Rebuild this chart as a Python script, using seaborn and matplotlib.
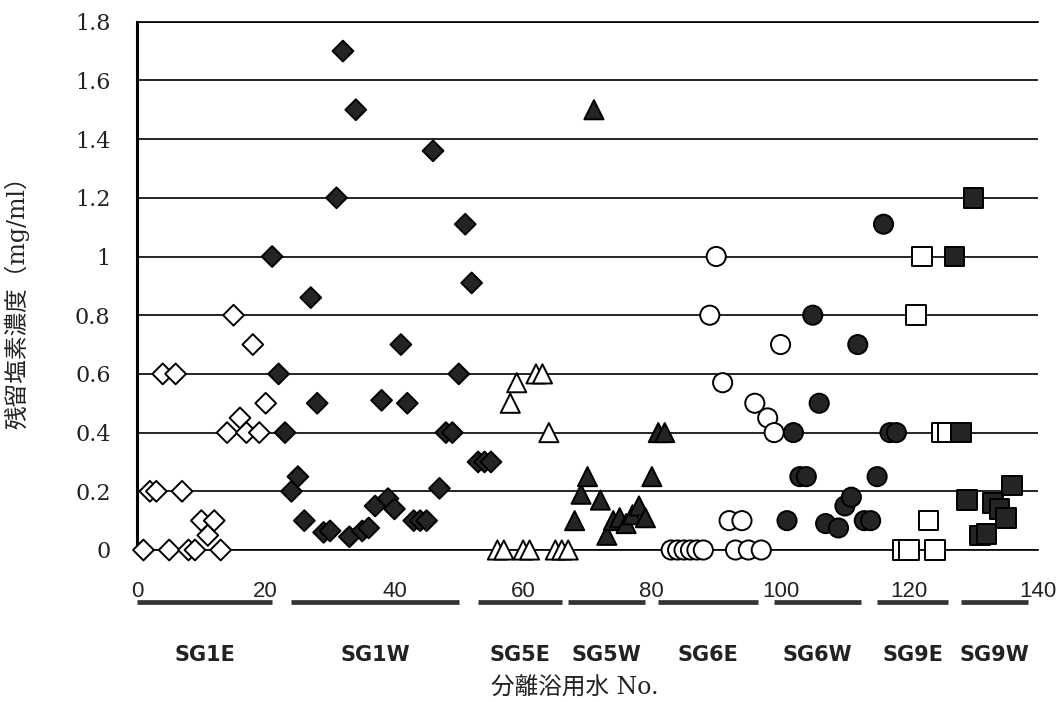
import matplotlib
matplotlib.use("Agg")
import matplotlib.pyplot as plt
import seaborn as sns
import pandas as pd
from matplotlib.transforms import blended_transform_factory

# ---------------- data ----------------
groups = ["SG1E", "SG1W", "SG5E", "SG5W", "SG6E", "SG6W", "SG9E", "SG9W"]

sg1e_x = [1, 2, 3, 4, 5, 6, 7, 8, 9, 10, 11, 12, 13, 14, 15, 16, 17, 18, 19, 20]
sg1e_y = [0, 0.2, 0.2, 0.6, 0, 0.6, 0.2, 0, 0, 0.1, 0.05, 0.1, 0, 0.4, 0.8, 0.45, 0.4, 0.7, 0.4, 0.5]

sg1w_x = [21, 22, 23, 24, 25, 26, 27, 28, 29, 30, 31, 32, 33, 34, 35, 36, 37, 38, 39, 40,
          41, 42, 43, 44, 45, 46, 47, 48, 49, 50, 51, 52, 53, 54, 55]
sg1w_y = [1.0, 0.6, 0.4, 0.2, 0.25, 0.1, 0.86, 0.5, 0.06, 0.065, 1.2, 1.7, 0.045, 1.5, 0.065,
          0.075, 0.15, 0.51, 0.175, 0.14, 0.7, 0.5, 0.1, 0.1, 0.1, 1.36, 0.21, 0.4, 0.4, 0.6,
          1.11, 0.91, 0.3, 0.3, 0.3]

sg5e_x = [56, 57, 58, 59, 60, 61, 62, 63, 64, 65, 66, 67]
sg5e_y = [0, 0, 0.5, 0.57, 0, 0, 0.6, 0.6, 0.4, 0, 0, 0]

sg5w_x = [68, 69, 70, 71, 72, 73, 74, 75, 76, 77, 78, 79, 80, 81, 82]
sg5w_y = [0.1, 0.19, 0.25, 1.5, 0.17, 0.05, 0.1, 0.11, 0.09, 0.12, 0.15, 0.11, 0.25, 0.4, 0.4]

sg6e_x = [83, 84, 85, 86, 87, 88, 89, 90, 91, 92, 93, 94, 95, 96, 97, 98, 99, 100]
sg6e_y = [0, 0, 0, 0, 0, 0, 0.8, 1.0, 0.57, 0.1, 0, 0.1, 0, 0.5, 0, 0.45, 0.4, 0.7]

sg6w_x = [101, 102, 103, 104, 105, 106, 107, 109, 110, 111, 112, 113, 114, 115, 116, 117, 118]
sg6w_y = [0.1, 0.4, 0.25, 0.25, 0.8, 0.5, 0.09, 0.075, 0.15, 0.18, 0.7, 0.1, 0.1, 0.25, 1.11, 0.4, 0.4]

sg9e_x = [119, 120, 121, 122, 123, 124, 125, 126]
sg9e_y = [0, 0, 0.8, 1.0, 0.1, 0, 0.4, 0.4]

sg9w_x = [127, 128, 129, 130, 131, 132, 133, 134, 135, 136]
sg9w_y = [1.0, 0.4, 0.17, 1.2, 0.05, 0.055, 0.16, 0.14, 0.11, 0.22]

# extent of the bath bars under the axis (in sample-number units)
bar_start = [0, 24, 53, 67, 81, 99, 115, 128]
bar_end = [21, 50, 66, 79, 96.5, 112.5, 126, 138.5]

yticks = [0, 0.2, 0.4, 0.6, 0.8, 1.0, 1.2, 1.4, 1.6, 1.8]
ytick_labels = ["0", "0.2", "0.4", "0.6", "0.8", "1", "1.2", "1.4", "1.6", "1.8"]
xticks = [0, 20, 40, 60, 80, 100, 120, 140]

xs = [sg1e_x, sg1w_x, sg5e_x, sg5w_x, sg6e_x, sg6w_x, sg9e_x, sg9w_x]
ys = [sg1e_y, sg1w_y, sg5e_y, sg5w_y, sg6e_y, sg6w_y, sg9e_y, sg9w_y]
df = pd.concat([pd.DataFrame({"x": x, "y": y, "group": g}) for g, x, y in zip(groups, xs, ys)],
               ignore_index=True)

# ---------------- style ----------------
sns.set_style("white")
plt.rcParams["font.family"] = ["DejaVu Serif", "Noto Sans CJK JP"]

FILL = "#242424"
markers = {"SG1E": "D", "SG1W": "D", "SG5E": "^", "SG5W": "^",
           "SG6E": "o", "SG6W": "o", "SG9E": "s", "SG9W": "s"}
palette = {"SG1E": "white", "SG1W": FILL, "SG5E": "white", "SG5W": FILL,
           "SG6E": "white", "SG6W": FILL, "SG9E": "white", "SG9W": FILL}
sizes = {"SG1E": 112, "SG1W": 112, "SG5E": 190, "SG5W": 190,
         "SG6E": 190, "SG6W": 190, "SG9E": 200, "SG9W": 200}

fig = plt.figure(figsize=(10.58, 7.02), dpi=100)
ax = fig.add_axes([137 / 1058, 1 - 550 / 702, (1038 - 137) / 1058, (550 - 21.7) / 702])

ax.set_axisbelow(True)
ax.yaxis.grid(True, color="black", linewidth=1.2)
ax.xaxis.grid(False)

sns.scatterplot(data=df, x="x", y="y", hue="group", style="group", size="group",
                markers=markers, palette=palette, sizes=sizes,
                edgecolor="black", linewidth=1.4, legend=False, ax=ax, zorder=3)
for c in ax.collections:
    c.set_clip_on(False)

ax.set_xlim(0, 140)
ax.set_ylim(0, 1.8)
ax.set_yticks(yticks)
ax.set_yticklabels(ytick_labels, fontsize=16, family="DejaVu Serif", color="#222222")
ax.set_xticks(xticks)
ax.set_xticklabels([str(t) for t in xticks], fontsize=16, family="Liberation Sans", color="#222222")
ax.tick_params(axis="y", length=0, pad=19)
ax.tick_params(axis="x", length=0, pad=22)

ax.spines["right"].set_visible(False)
ax.spines["left"].set_linewidth(2.2)
ax.spines["left"].set_color("black")
for s in ["top", "bottom"]:
    ax.spines[s].set_linewidth(1.2)
    ax.spines[s].set_color("black")

ax.set_ylabel("残留塩素濃度（mg/ml）", fontsize=17, color="#222222")
ax.yaxis.set_label_coords(-0.119, 0.48)
ax.set_xlabel("分離浴用水 No.", fontsize=17, color="#222222")
ax.xaxis.set_label_coords(0.486, -0.261)
ax.xaxis.label.set_va("center")

trans = blended_transform_factory(ax.transData, ax.transAxes)
for g, a, b in zip(groups, bar_start, bar_end):
    ax.plot([a, b], [-0.0984, -0.0984], transform=trans, color="#333333",
            linewidth=3.4, solid_capstyle="butt", clip_on=False)
    ax.text((a + b) / 2, -0.199, g, transform=trans, ha="center", va="center",
            fontsize=15, fontweight="bold", family="DejaVu Sans", color="#222222")

fig.savefig("out.png", dpi=100)
